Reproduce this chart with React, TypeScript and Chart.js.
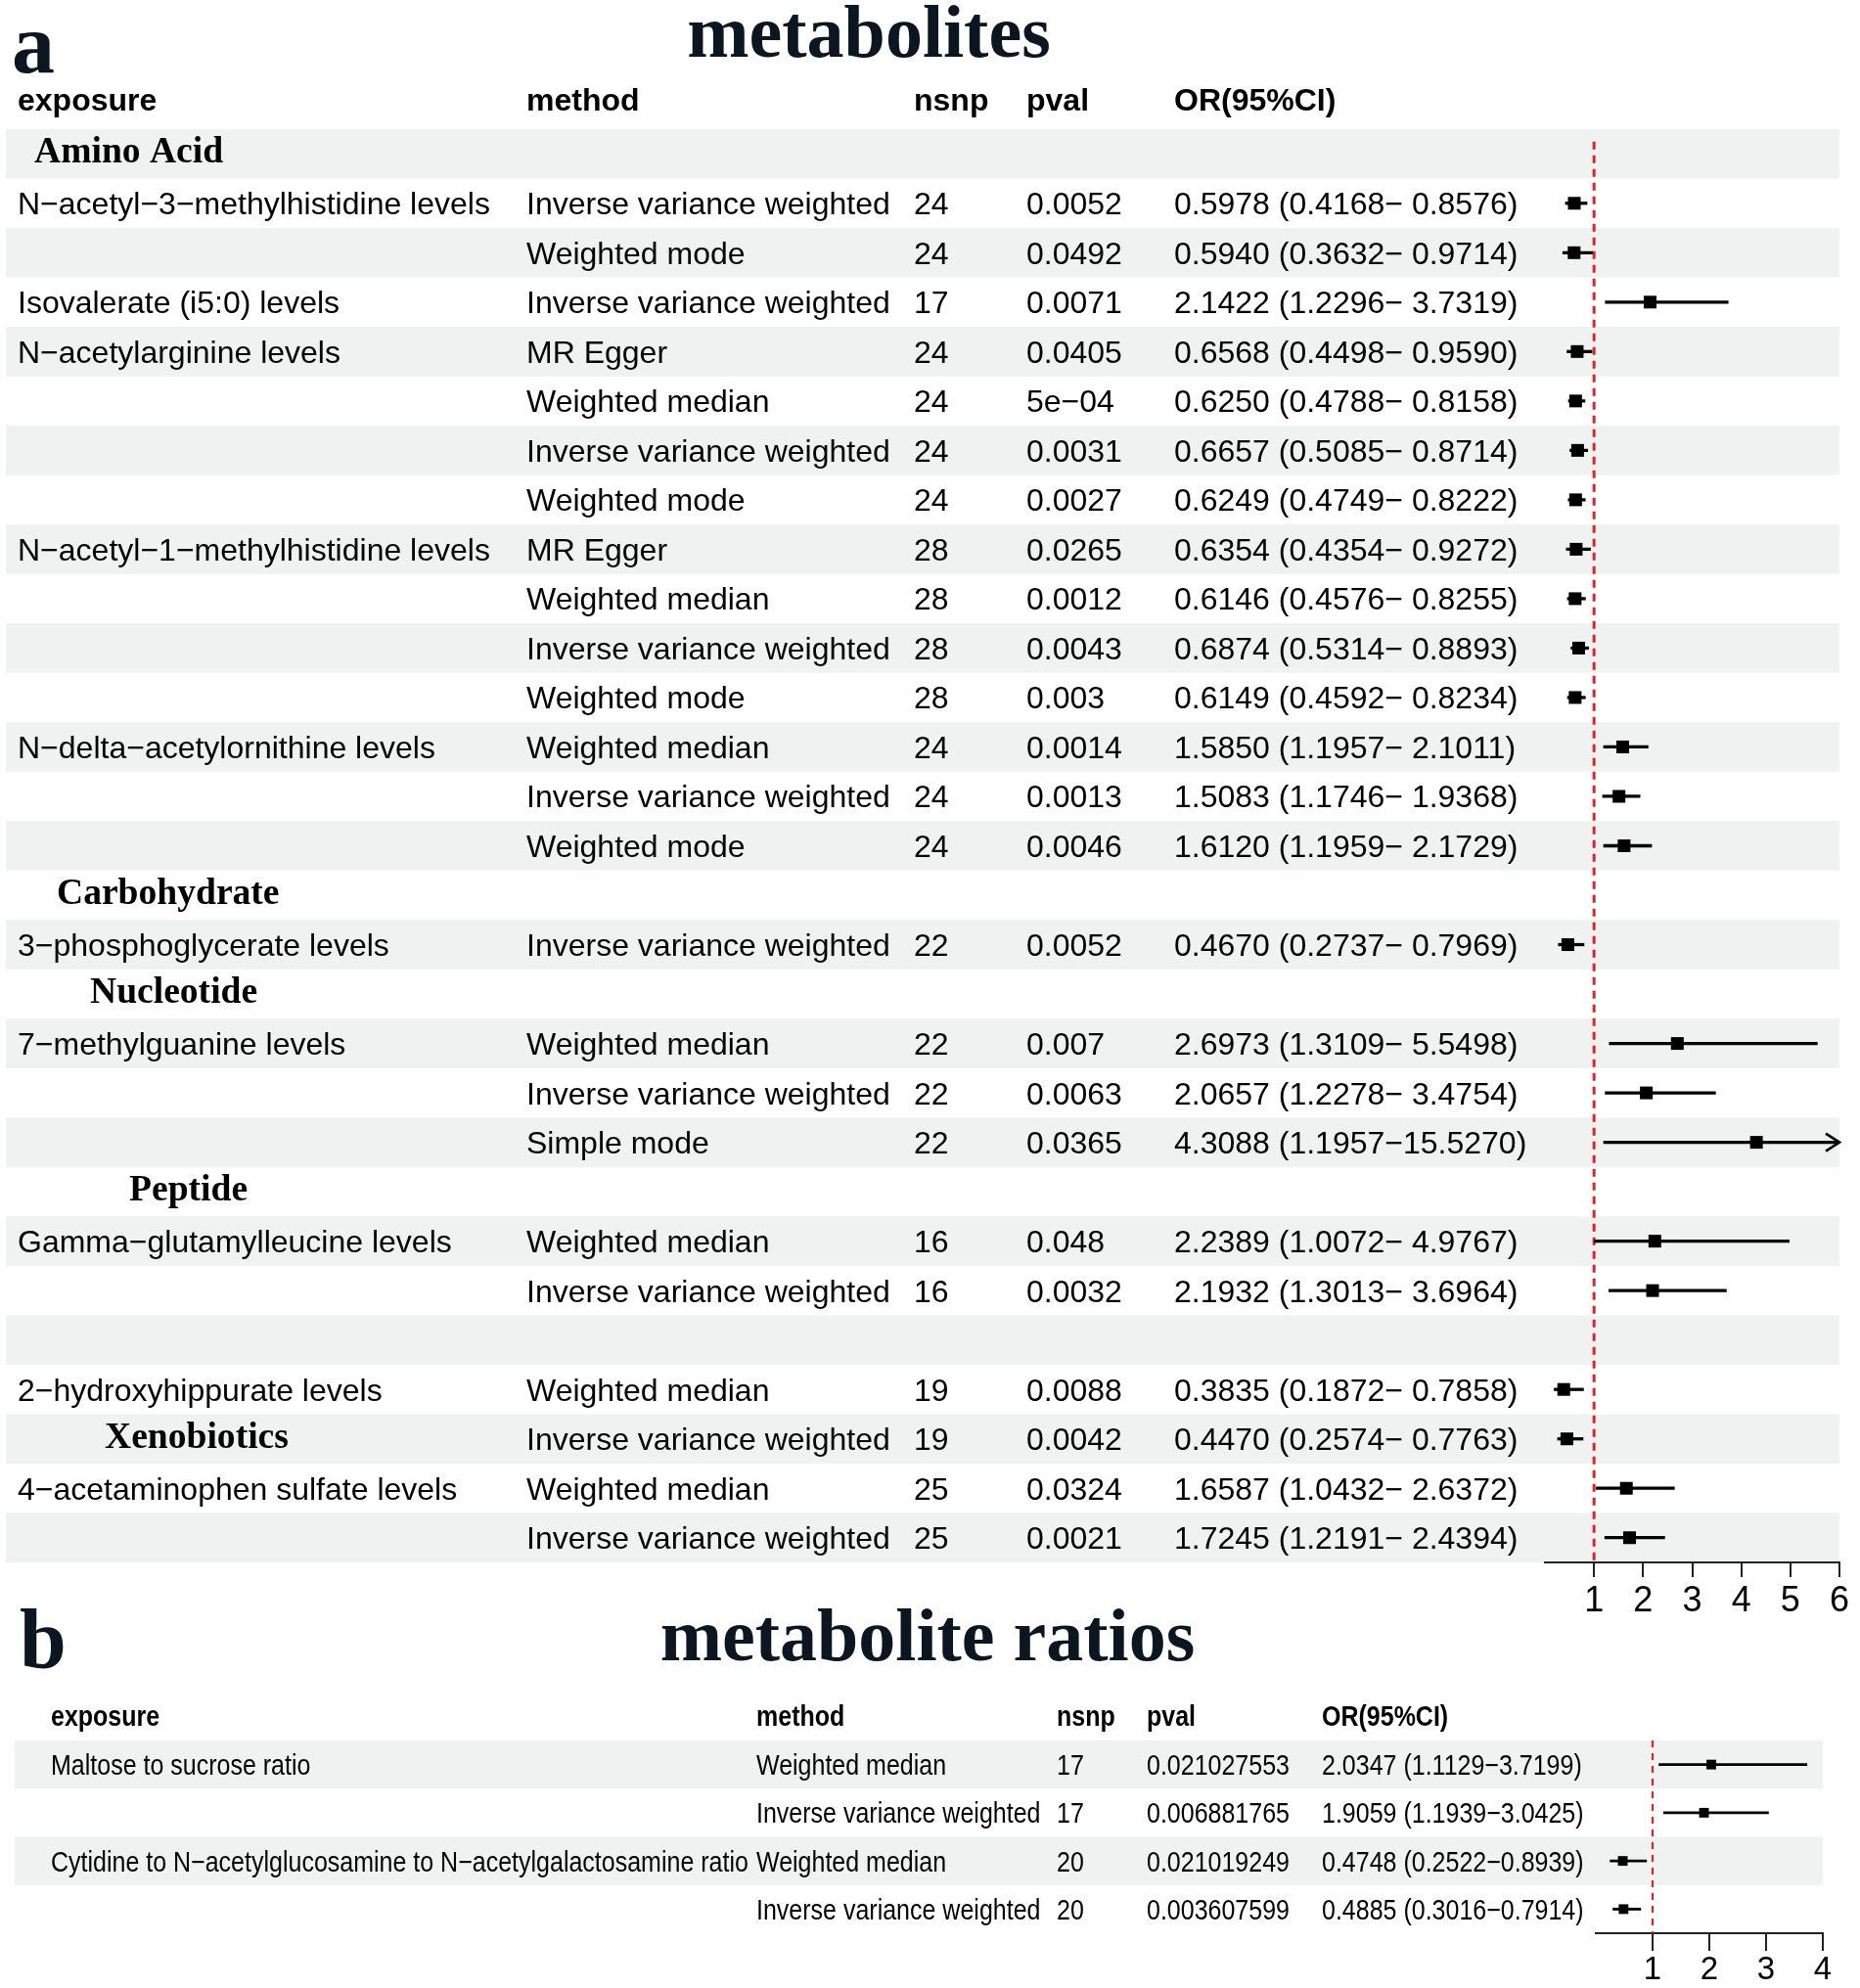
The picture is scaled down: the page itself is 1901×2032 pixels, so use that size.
import React, { useEffect, useRef } from 'react';
import { Chart, registerables } from 'chart.js';

Chart.register(...registerables);

const SANS = '"Liberation Sans", Arial, Helvetica, sans-serif';
const SERIF = '"Liberation Serif", "Times New Roman", serif';

// ---------------- Panel a data ----------------
const aTitle = 'metabolites';
const aHeaders = ['exposure', 'method', 'nsnp', 'pval', 'OR(95%CI)'];
const aCategories = ['Amino Acid', 'Carbohydrate', 'Nucleotide', 'Peptide', 'Xenobiotics'];
const aCategoryRow = [0, 15, 17, 21, 26];
const aExposure = [
  '', 'N−acetyl−3−methylhistidine levels', '', 'Isovalerate (i5:0) levels', 'N−acetylarginine levels', '', '', '',
  'N−acetyl−1−methylhistidine levels', '', '', '', 'N−delta−acetylornithine levels', '', '', '',
  '3−phosphoglycerate levels', '', '7−methylguanine levels', '', '', '', 'Gamma−glutamylleucine levels', '', '',
  '2−hydroxyhippurate levels', '', '4−acetaminophen sulfate levels', '',
];
const aMethod = [
  '', 'Inverse variance weighted', 'Weighted mode', 'Inverse variance weighted', 'MR Egger', 'Weighted median',
  'Inverse variance weighted', 'Weighted mode', 'MR Egger', 'Weighted median', 'Inverse variance weighted',
  'Weighted mode', 'Weighted median', 'Inverse variance weighted', 'Weighted mode', '', 'Inverse variance weighted',
  '', 'Weighted median', 'Inverse variance weighted', 'Simple mode', '', 'Weighted median', 'Inverse variance weighted',
  '', 'Weighted median', 'Inverse variance weighted', 'Weighted median', 'Inverse variance weighted',
];
const aNsnp = [null, 24, 24, 17, 24, 24, 24, 24, 28, 28, 28, 28, 24, 24, 24, null, 22, null, 22, 22, 22, null, 16, 16, null, 19, 19, 25, 25];
const aPval = [
  '', '0.0052', '0.0492', '0.0071', '0.0405', '5e−04', '0.0031', '0.0027', '0.0265', '0.0012', '0.0043', '0.003',
  '0.0014', '0.0013', '0.0046', '', '0.0052', '', '0.007', '0.0063', '0.0365', '', '0.048', '0.0032', '',
  '0.0088', '0.0042', '0.0324', '0.0021',
];
const aOR = [null, 0.5978, 0.594, 2.1422, 0.6568, 0.625, 0.6657, 0.6249, 0.6354, 0.6146, 0.6874, 0.6149, 1.585, 1.5083, 1.612, null, 0.467, null, 2.6973, 2.0657, 4.3088, null, 2.2389, 2.1932, null, 0.3835, 0.447, 1.6587, 1.7245];
const aLow = [null, 0.4168, 0.3632, 1.2296, 0.4498, 0.4788, 0.5085, 0.4749, 0.4354, 0.4576, 0.5314, 0.4592, 1.1957, 1.1746, 1.1959, null, 0.2737, null, 1.3109, 1.2278, 1.1957, null, 1.0072, 1.3013, null, 0.1872, 0.2574, 1.0432, 1.2191];
const aHigh = [null, 0.8576, 0.9714, 3.7319, 0.959, 0.8158, 0.8714, 0.8222, 0.9272, 0.8255, 0.8893, 0.8234, 2.1011, 1.9368, 2.1729, null, 0.7969, null, 5.5498, 3.4754, 15.527, null, 4.9767, 3.6964, null, 0.7858, 0.7763, 2.6372, 2.4394];
const aTicks = [1, 2, 3, 4, 5, 6];
const aXMin = 0;
const aXMax = 6;
const aRef = 1;

// ---------------- Panel b data ----------------
const bTitle = 'metabolite ratios';
const bHeaders = ['exposure', 'method', 'nsnp', 'pval', 'OR(95%CI)'];
const bExposure = ['Maltose to sucrose ratio', '', 'Cytidine to N−acetylglucosamine to N−acetylgalactosamine ratio', ''];
const bMethod = ['Weighted median', 'Inverse variance weighted', 'Weighted median', 'Inverse variance weighted'];
const bNsnp = [17, 17, 20, 20];
const bPval = ['0.021027553', '0.006881765', '0.021019249', '0.003607599'];
const bOR = [2.0347, 1.9059, 0.4748, 0.4885];
const bLow = [1.1129, 1.1939, 0.2522, 0.3016];
const bHigh = [3.7199, 3.0425, 0.8939, 0.7914];
const bTicks = [1, 2, 3, 4];
const bXMin = 0;
const bXMax = 4;
const bRef = 1;

// ---------------- layout constants ----------------
const A_COLS = [18, 538, 934, 1049, 1200];
const A_CAT_X = [35, 58, 92, 132, 107];
const B_COLS = [52, 773, 1080, 1172, 1351];
const B_STRETCH = 1.18;
const BAND = '#eff2f1';
const RED = '#d9262a';
const INK = '#0b1620';

const fmtA = (o: number, l: number, h: number) =>
  `${o.toFixed(4)} (${l.toFixed(4)}−${h < 10 ? ' ' : ''}${h.toFixed(4)})`;
const fmtB = (o: number, l: number, h: number) => `${o.toFixed(4)} (${l.toFixed(4)}−${h.toFixed(4)})`;

function drawText(
  ctx: CanvasRenderingContext2D,
  s: string,
  x: number,
  y: number,
  font: string,
  color = '#000',
  align: CanvasTextAlign = 'left',
  sy = 1,
) {
  ctx.save();
  ctx.font = font;
  ctx.fillStyle = color;
  ctx.textAlign = align;
  ctx.textBaseline = 'alphabetic';
  ctx.translate(x, y);
  ctx.scale(1, sy);
  ctx.fillText(s, 0, 0);
  ctx.restore();
}

function arrowPlugin(id: string, highs: (number | null)[], rows: number[], xmax: number, lw: number) {
  return {
    id,
    afterDatasetsDraw(chart: any) {
      const ctx = chart.ctx as CanvasRenderingContext2D;
      const xs = chart.scales.x;
      const ys = chart.scales.y;
      highs.forEach((h, k) => {
        if (h == null || h <= xmax) return;
        const px = xs.getPixelForValue(xmax);
        const py = ys.getPixelForValue(rows[k]);
        ctx.save();
        ctx.strokeStyle = '#000';
        ctx.lineWidth = lw;
        ctx.beginPath();
        ctx.moveTo(px - 14, py - 9);
        ctx.lineTo(px, py);
        ctx.lineTo(px - 14, py + 9);
        ctx.stroke();
        ctx.restore();
      });
    },
  };
}

function makeA(canvas: HTMLCanvasElement) {
  const rows = aOR.map((_, i) => i);
  const ciData: any[] = [];
  const ptData: any[] = [];
  rows.forEach((i) => {
    const o = aOR[i];
    if (o == null) return;
    ciData.push({ y: i, x: [aLow[i], aHigh[i]] });
    ptData.push({ x: o, y: i });
  });
  const lastRow = rows.length - 1;

  const tablePlugin = {
    id: 'tableA',
    beforeDraw(chart: any) {
      const ctx = chart.ctx as CanvasRenderingContext2D;
      const ys = chart.scales.y;
      const right = chart.chartArea.right;
      ctx.save();
      ctx.fillStyle = BAND;
      rows.forEach((i) => {
        if (i % 2 !== 0) return;
        const t = ys.getPixelForValue(i - 0.5);
        const b = ys.getPixelForValue(i + 0.5);
        ctx.fillRect(6, t, right - 6, b - t);
      });
      ctx.restore();
    },
    afterDraw(chart: any) {
      const ctx = chart.ctx as CanvasRenderingContext2D;
      const ys = chart.scales.y;
      drawText(ctx, 'a', 12, 74, `bold 88px ${SERIF}`, INK);
      drawText(ctx, aTitle, 888, 58, `bold 76px ${SERIF}`, INK, 'center');
      const hy = ys.getPixelForValue(-1) + 6.5;
      aHeaders.forEach((h, k) => drawText(ctx, h, A_COLS[k], hy, `bold 32px ${SANS}`));
      rows.forEach((i) => {
        const by = ys.getPixelForValue(i) + 11.5;
        const f = `32px ${SANS}`;
        if (aExposure[i]) drawText(ctx, aExposure[i], A_COLS[0], by, f);
        if (aMethod[i]) drawText(ctx, aMethod[i], A_COLS[1], by, f);
        if (aNsnp[i] != null) drawText(ctx, String(aNsnp[i]), A_COLS[2], by, f);
        if (aPval[i]) drawText(ctx, aPval[i], A_COLS[3], by, f);
        const o = aOR[i];
        if (o != null) drawText(ctx, fmtA(o, aLow[i] as number, aHigh[i] as number), A_COLS[4], by, f);
      });
      aCategories.forEach((c, k) => {
        const by = ys.getPixelForValue(aCategoryRow[k]) + 9;
        drawText(ctx, c, A_CAT_X[k], by, `bold 37.6px ${SERIF}`, '#000');
      });
    },
  };

  return new Chart(canvas, {
    type: 'scatter',
    data: {
      datasets: [
        {
          type: 'line',
          data: [{ x: aRef, y: -0.25 }, { x: aRef, y: lastRow + 0.5 }],
          borderColor: RED,
          borderWidth: 3,
          borderDash: [8, 6],
          pointRadius: 0,
          order: 3,
        } as any,
        {
          type: 'bar',
          indexAxis: 'y',
          data: ciData,
          backgroundColor: '#000',
          borderWidth: 0,
          barThickness: 2.6,
          order: 2,
        } as any,
        {
          type: 'scatter',
          data: ptData,
          pointStyle: 'rect',
          pointRadius: 9.2,
          pointHoverRadius: 9.2,
          backgroundColor: '#000',
          borderWidth: 0,
          order: 1,
        } as any,
      ],
    },
    options: {
      responsive: false,
      animation: false,
      devicePixelRatio: 1,
      events: [],
      layout: { padding: { left: 1579, right: 21, top: 132, bottom: 43 } },
      plugins: { legend: { display: false }, tooltip: { enabled: false } },
      scales: {
        x: {
          type: 'linear',
          min: aXMin,
          max: aXMax,
          offset: false,
          afterBuildTicks: (s: any) => {
            s.ticks = aTicks.map((v) => ({ value: v }));
          },
          afterFit: (s: any) => {
            s.height = 60;
          },
          ticks: { color: '#000', font: { family: SANS, size: 36 }, padding: 3, autoSkip: false, maxRotation: 0 },
          grid: { drawOnChartArea: false, drawTicks: true, tickLength: 15, color: '#222', lineWidth: 2, offset: false },
          border: { display: true, color: '#222', width: 2 },
        },
        y: {
          type: 'linear',
          min: -0.5,
          max: lastRow + 0.5,
          reverse: true,
          offset: false,
          display: false,
          grid: { offset: false },
        },
      },
    } as any,
    plugins: [tablePlugin, arrowPlugin('arrowA', aHigh, rows, aXMax, 2.6)],
  });
}

function makeB(canvas: HTMLCanvasElement) {
  const rows = bOR.map((_, i) => i + 1);
  const ciData = bOR.map((_, k) => ({ y: rows[k], x: [bLow[k], bHigh[k]] }));
  const ptData = bOR.map((o, k) => ({ x: o, y: rows[k] }));
  const OFF = 1620;

  const tablePlugin = {
    id: 'tableB',
    beforeDraw(chart: any) {
      const ctx = chart.ctx as CanvasRenderingContext2D;
      const ys = chart.scales.y;
      const right = chart.chartArea.right;
      ctx.save();
      ctx.fillStyle = BAND;
      rows.forEach((r) => {
        if (r % 2 !== 1) return;
        const t = ys.getPixelForValue(r - 0.5);
        const b = ys.getPixelForValue(r + 0.5);
        ctx.fillRect(15, t, right - 15, b - t);
      });
      ctx.restore();
    },
    afterDraw(chart: any) {
      const ctx = chart.ctx as CanvasRenderingContext2D;
      const ys = chart.scales.y;
      drawText(ctx, 'b', 20, 1704 - OFF, `bold 86px ${SERIF}`, INK);
      drawText(ctx, bTitle, 948, 1697 - OFF, `bold 76px ${SERIF}`, INK, 'center');
      const hy = ys.getPixelForValue(0) + 10;
      bHeaders.forEach((h, k) => drawText(ctx, h, B_COLS[k], hy, `bold 25px ${SANS}`, '#000', 'left', B_STRETCH));
      rows.forEach((r, k) => {
        const by = ys.getPixelForValue(r) + 10.5;
        const f = `25px ${SANS}`;
        if (bExposure[k]) drawText(ctx, bExposure[k], B_COLS[0], by, f, '#000', 'left', B_STRETCH);
        drawText(ctx, bMethod[k], B_COLS[1], by, f, '#000', 'left', B_STRETCH);
        drawText(ctx, String(bNsnp[k]), B_COLS[2], by, f, '#000', 'left', B_STRETCH);
        drawText(ctx, bPval[k], B_COLS[3], by, f, '#000', 'left', B_STRETCH);
        drawText(ctx, fmtB(bOR[k], bLow[k], bHigh[k]), B_COLS[4], by, f, '#000', 'left', B_STRETCH);
      });
    },
  };

  return new Chart(canvas, {
    type: 'scatter',
    data: {
      datasets: [
        {
          type: 'line',
          data: [{ x: bRef, y: 0.5 }, { x: bRef, y: rows.length + 0.5 }],
          borderColor: RED,
          borderWidth: 2.2,
          borderDash: [7, 6],
          pointRadius: 0,
          order: 3,
        } as any,
        {
          type: 'bar',
          indexAxis: 'y',
          data: ciData,
          backgroundColor: '#000',
          borderWidth: 0,
          barThickness: 2.2,
          order: 2,
        } as any,
        {
          type: 'scatter',
          data: ptData,
          pointStyle: 'rect',
          pointRadius: 7,
          pointHoverRadius: 7,
          backgroundColor: '#000',
          borderWidth: 0,
          order: 1,
        } as any,
      ],
    },
    options: {
      responsive: false,
      animation: false,
      devicePixelRatio: 1,
      events: [],
      layout: { padding: { left: 1631, right: 38, top: 159, bottom: 6 } },
      plugins: { legend: { display: false }, tooltip: { enabled: false } },
      scales: {
        x: {
          type: 'linear',
          min: bXMin,
          max: bXMax,
          offset: false,
          afterBuildTicks: (s: any) => {
            s.ticks = bTicks.map((v) => ({ value: v }));
          },
          afterFit: (s: any) => {
            s.height = 50;
          },
          ticks: { color: '#000', font: { family: SANS, size: 33 }, padding: 0, autoSkip: false, maxRotation: 0 },
          grid: { drawOnChartArea: false, drawTicks: true, tickLength: 18, color: '#222', lineWidth: 2, offset: false },
          border: { display: true, color: '#222', width: 2 },
        },
        y: {
          type: 'linear',
          min: 0.5,
          max: rows.length + 0.5,
          reverse: true,
          offset: false,
          display: false,
          grid: { offset: false },
        },
      },
    } as any,
    plugins: [tablePlugin, arrowPlugin('arrowB', bHigh, rows, bXMax, 2.2)],
  });
}

export default function App() {
  const refA = useRef<HTMLCanvasElement>(null);
  const refB = useRef<HTMLCanvasElement>(null);
  useEffect(() => {
    const ca = makeA(refA.current as HTMLCanvasElement);
    const cb = makeB(refB.current as HTMLCanvasElement);
    return () => {
      ca.destroy();
      cb.destroy();
    };
  }, []);
  return (
    <div style={{ position: 'absolute', left: 0, top: 0, width: 1901, height: 2032, background: '#fff', overflow: 'hidden' }}>
      <canvas ref={refA} width={1901} height={1700} style={{ position: 'absolute', left: 0, top: 0, width: 1901, height: 1700 }} />
      <canvas ref={refB} width={1901} height={412} style={{ position: 'absolute', left: 0, top: 1620, width: 1901, height: 412 }} />
    </div>
  );
}
